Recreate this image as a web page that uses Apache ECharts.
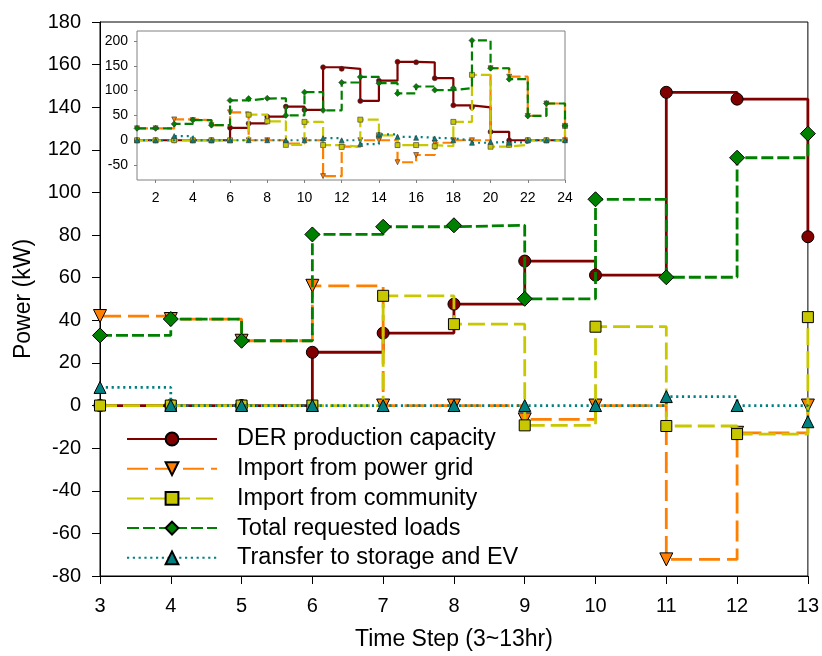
<!DOCTYPE html>
<html>
<head>
<meta charset="utf-8">
<script src="https://cdn.jsdelivr.net/npm/echarts@6/dist/echarts.min.js"></script>
<style>
  html, body { margin: 0; padding: 0; background: #ffffff; }
  #chart { width: 822px; height: 656px; }
</style>
</head>
<body>
<div id="chart"></div>
<script>
// Hourly power balance of one household (kW), hours 1..24
const hours = [1, 2, 3, 4, 5, 6, 7, 8, 9, 10, 11, 12, 13, 14, 15, 16, 17, 18, 19, 20, 21, 22, 23, 24];
const derCapacity     = [0, 0, 0, 0, 0, 25, 34, 47.6, 67.8, 61.2, 147, 143.8, 79.2, 120, 158, 157, 125, 70.4, 66.4, 17, 0, 0, 0, 0];
const gridImport      = [24, 24, 42, 40.6, 30.4, 56.2, 0, 0, -6.5, 0, -72.2, -12.8, 0, 0, -44.3, -29.7, -5, 0, 0, 145, 128, 49, 74, 0];
const communityImport = [0, 0, 0, 0, 0, 0, 51.5, 38.2, -9.3, 37, -9.6, -13.4, 41.5, 10, -9.7, -9.7, -12, 37, 131.7, -13, -9, 0, 0, 29];
const totalLoads      = [24, 24, 32.9, 40.6, 30.4, 80.3, 83.9, 84.6, 50.1, 96.8, 60.2, 116.3, 127.6, 115, 94.3, 108.3, 101, 105, 201, 145, 123, 49, 74, 29];
const storageTransfer = [0, 0, 8.5, 0, 0, 0, 0, 0, 0, 0, 4.2, 0, -7.6, 11.7, 7, 5, 3.7, 0, -5, -3, -5, 0, 0, 0];

const seriesNames = [
  'DER production capacity',
  'Import from power grid',
  'Import from community',
  'Total requested loads',
  'Transfer to storage and EV'
];
const seriesValues = [derCapacity, gridImport, communityImport, totalLoads, storageTransfer];

// Zoomed window of the main plot (hours 3..13)
const mainFirstHour = 3;
const mainLastHour = 13;
const insetXTicks = [2, 4, 6, 8, 10, 12, 14, 16, 18, 20, 22, 24];
const insetYTicks = [-50, 0, 50, 100, 150, 200];

const FONT = '"Liberation Sans", Arial, sans-serif';

const looks = [
  { color: '#800000', dash: 'solid', inDash: 'solid', symbol: 'circle',   rotate: 0,   size: 12, inSize: 5 },
  { color: '#ff8000', dash: [21, 7], inDash: [11, 4], symbol: 'triangle', rotate: 180, size: 13, inSize: 5 },
  { color: '#c8c800', dash: [17, 6], inDash: [11, 4], symbol: 'rect',     rotate: 0,   size: 11, inSize: 5 },
  { color: '#008000', dash: [12, 4], inDash: [9, 4],  symbol: 'diamond',  rotate: 0,   size: 15, inSize: 6 },
  { color: '#008080', dash: [2.2, 3.6], inDash: [2, 4], symbol: 'triangle', rotate: 0, size: 12, inSize: 5 }
];

function pairs(values, from, to) {
  const out = [];
  hours.forEach((h, i) => { if (h >= from && h <= to) out.push([h, values[i]]); });
  return out;
}

const series = [];
// main plot series
seriesNames.forEach((name, k) => {
  const lk = looks[k];
  series.push({
    name: name,
    type: 'line',
    xAxisIndex: 0,
    yAxisIndex: 0,
    step: 'end',
    data: pairs(seriesValues[k], mainFirstHour, mainLastHour),
    symbol: lk.symbol,
    symbolRotate: lk.rotate,
    symbolSize: lk.size,
    showAllSymbol: true,
    clip: false,
    lineStyle: { color: lk.color, width: 2.8, type: lk.dash },
    itemStyle: { color: lk.color, borderColor: '#000000', borderWidth: 1 },
    emphasis: { disabled: true },
    z: 3 + k
  });
});
// inset series (full day)
seriesNames.forEach((name, k) => {
  const lk = looks[k];
  series.push({
    name: name,
    type: 'line',
    xAxisIndex: 1,
    yAxisIndex: 1,
    step: 'end',
    data: pairs(seriesValues[k], 1, 24),
    symbol: lk.symbol,
    symbolRotate: lk.rotate,
    symbolSize: lk.inSize,
    showAllSymbol: true,
    clip: false,
    lineStyle: { color: lk.color, width: 2.2, type: lk.inDash },
    itemStyle: { color: lk.color, borderColor: '#333333', borderWidth: 0.6 },
    emphasis: { disabled: true },
    z: 20 + k
  });
});

const chart = echarts.init(document.getElementById('chart'), null, { renderer: 'canvas' });

chart.setOption({
  backgroundColor: '#ffffff',
  animation: false,
  textStyle: { fontFamily: FONT, color: '#000000' },
  grid: [
    { left: 100, right: 13, top: 22, bottom: 80, show: true, borderColor: '#000000', borderWidth: 1, backgroundColor: 'transparent', z: 1 },
    { left: 137, top: 31, width: 428, height: 149, show: true, borderColor: '#808080', borderWidth: 1, backgroundColor: '#ffffff', z: 15 }
  ],
  legend: {
    data: seriesNames,
    orient: 'vertical',
    left: 126,
    top: 427,
    padding: 0,
    itemWidth: 90,
    itemHeight: 16,
    itemGap: 5.7,
    selectedMode: false,
    textStyle: { fontFamily: FONT, fontSize: 23.5, color: '#000000', padding: [0, 0, 0, 15] }
  },
  xAxis: [
    {
      type: 'value',
      gridIndex: 0,
      min: mainFirstHour,
      max: mainLastHour,
      interval: 1,
      name: 'Time Step (3~13hr)',
      nameLocation: 'middle',
      nameGap: 52,
      nameTextStyle: { fontFamily: FONT, fontSize: 23, color: '#000000' },
      axisLine: { show: true, onZero: false, lineStyle: { color: '#000000', width: 1 } },
      axisTick: { show: true, inside: false, length: 8, lineStyle: { color: '#000000' } },
      axisLabel: { fontFamily: FONT, fontSize: 20, color: '#000000', margin: 20 },
      splitLine: { show: false }
    },
    {
      type: 'value',
      gridIndex: 1,
      min: 1,
      max: 24,
      axisLine: { show: false, onZero: false },
      axisTick: { show: true, inside: false, length: 3, customValues: insetXTicks, lineStyle: { color: '#808080' } },
      axisLabel: { fontFamily: FONT, fontSize: 14, color: '#000000', margin: 11, customValues: insetXTicks },
      splitLine: { show: false }
    }
  ],
  yAxis: [
    {
      type: 'value',
      gridIndex: 0,
      min: -80,
      max: 180,
      interval: 20,
      name: 'Power (kW)',
      nameLocation: 'middle',
      nameGap: 65,
      nameTextStyle: { fontFamily: FONT, fontSize: 23, color: '#000000' },
      axisLine: { show: true, onZero: false, lineStyle: { color: '#000000', width: 1 } },
      axisTick: { show: true, inside: false, length: 8, lineStyle: { color: '#000000' } },
      axisLabel: { fontFamily: FONT, fontSize: 20, color: '#000000', margin: 19 },
      splitLine: { show: false }
    },
    {
      type: 'value',
      gridIndex: 1,
      min: -80,
      max: 220,
      axisLine: { show: false, onZero: false },
      axisTick: { show: true, inside: false, length: 3, customValues: insetYTicks, lineStyle: { color: '#808080' } },
      axisLabel: { fontFamily: FONT, fontSize: 14, color: '#000000', margin: 9, customValues: insetYTicks },
      splitLine: { show: false }
    }
  ],
  series: series
});
</script>
</body>
</html>
